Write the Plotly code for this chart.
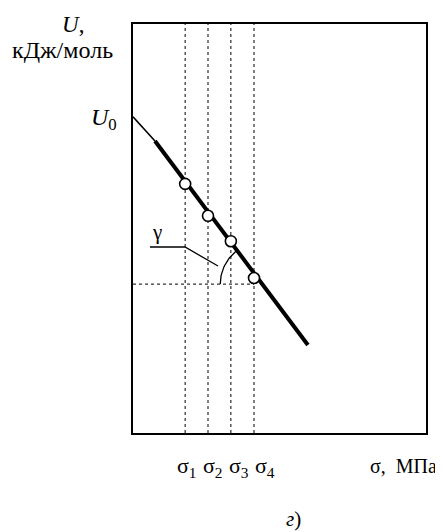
import numpy as np
import plotly.graph_objects as go

# ---- data (abstract units) ----
sigma_names = ["σ<sub>1</sub>", "σ<sub>2</sub>", "σ<sub>3</sub>", "σ<sub>4</sub>"]
sigma_vals = [1.78, 2.56, 3.34, 4.13]
U_points = [6.09, 5.31, 4.69, 3.79]
line_thin_x = [0.0, 0.75]
line_thin_y = [7.73, 7.14]
line_thick_x = [0.75, 5.97]
line_thick_y = [7.14, 2.15]
U_ref = 3.64

XR = [0, 10]
YR = [0, 10]

OFF = 8  # page body margin
W, H = 443 - OFF, 532 - OFF
L, R, T, B = 133 - OFF, 17, 24 - OFF, 99
pw, ph = W - L - R, H - T - B

def px(x):  # screen pixel -> paper
    return (x - OFF - L) / pw

def py(y):
    return (H - B - (y - OFF)) / ph

def d2px(x, y):  # data -> screen pixel
    return (OFF + L + (x - XR[0]) / (XR[1] - XR[0]) * pw,
            OFF + H - B - (y - YR[0]) / (YR[1] - YR[0]) * ph)

def px2d(X, Y):
    return (XR[0] + (X - OFF - L) / pw * (XR[1] - XR[0]),
            YR[0] + (H - B - (Y - OFF)) / ph * (YR[1] - YR[0]))

FONT = "Liberation Serif"
fig = go.Figure()

# dotted verticals
for s in sigma_vals:
    fig.add_trace(go.Scatter(x=[s, s], y=YR, mode="lines",
                             line=dict(color="black", width=1, dash="dot"), hoverinfo="skip"))
# dotted horizontal
fig.add_trace(go.Scatter(x=[XR[0], sigma_vals[3]], y=[U_ref, U_ref], mode="lines",
                         line=dict(color="black", width=1, dash="dot"), hoverinfo="skip"))

# main line
fig.add_trace(go.Scatter(x=line_thin_x, y=line_thin_y, mode="lines",
                         line=dict(color="black", width=1.6)))
fig.add_trace(go.Scatter(x=line_thick_x, y=line_thick_y, mode="lines",
                         line=dict(color="black", width=4)))

# gamma leader line
lx, ly = px2d(150, 247)
mx, my = px2d(185, 247)
ex, ey = px2d(218, 266)
fig.add_trace(go.Scatter(x=[lx, mx, ex], y=[ly, my, ey], mode="lines",
                         line=dict(color="black", width=1.3)))

# angle arc (pixel-space circle around line/horizontal intersection)
slope = (line_thick_y[1] - line_thick_y[0]) / (line_thick_x[1] - line_thick_x[0])
xc = line_thick_x[0] + (U_ref - line_thick_y[0]) / slope
cX, cY = d2px(xc, U_ref)
p0X, p0Y = d2px(line_thick_x[0], line_thick_y[0])
a_end = np.arctan2(-(p0Y - cY), p0X - cX)
angs = np.linspace(np.pi, a_end, 30)
rad = 42
arcX = cX + rad * np.cos(angs)
arcY = cY - rad * np.sin(angs)
ad = [px2d(a, b) for a, b in zip(arcX, arcY)]
fig.add_trace(go.Scatter(x=[p[0] for p in ad], y=[p[1] for p in ad], mode="lines",
                         line=dict(color="black", width=1.3)))

# circles
fig.add_trace(go.Scatter(x=sigma_vals, y=U_points, mode="markers",
                         marker=dict(size=11, color="white", line=dict(color="black", width=1.6))))

ann = []
def A(text, X, Y, size, xanchor="center"):
    ann.append(dict(text=text, x=px(X), y=py(Y), xref="paper", yref="paper", showarrow=False,
                    xanchor=xanchor, yanchor="middle", borderpad=0,
                    font=dict(family=FONT, size=size, color="black")))

A("<i>U</i>,", 73, 24, 23)
A("кДж/моль", 62, 50, 24)
A("<i>U</i><sub>0</sub>", 104, 119, 24)
A("γ", 157, 232, 21)
label_px = [187, 213, 238.5, 264.5]
for X, n in zip(label_px, sigma_names):
    A(n, X, 467, 22)
A("σ,\u00a0 МПа", 438, 466, 20, xanchor="right")
A("<i>г</i>)", 293.5, 519, 21)

fig.update_layout(
    width=W, height=H, margin=dict(l=L, r=R, t=T, b=B),
    paper_bgcolor="white", plot_bgcolor="white", showlegend=False,
    annotations=ann,
    xaxis=dict(range=XR, showgrid=False, zeroline=False, showticklabels=False, ticks="",
               showline=True, mirror=True, linecolor="black", linewidth=2),
    yaxis=dict(range=YR, showgrid=False, zeroline=False, showticklabels=False, ticks="",
               showline=True, mirror=True, linecolor="black", linewidth=2),
)
fig.write_html("out.html")
